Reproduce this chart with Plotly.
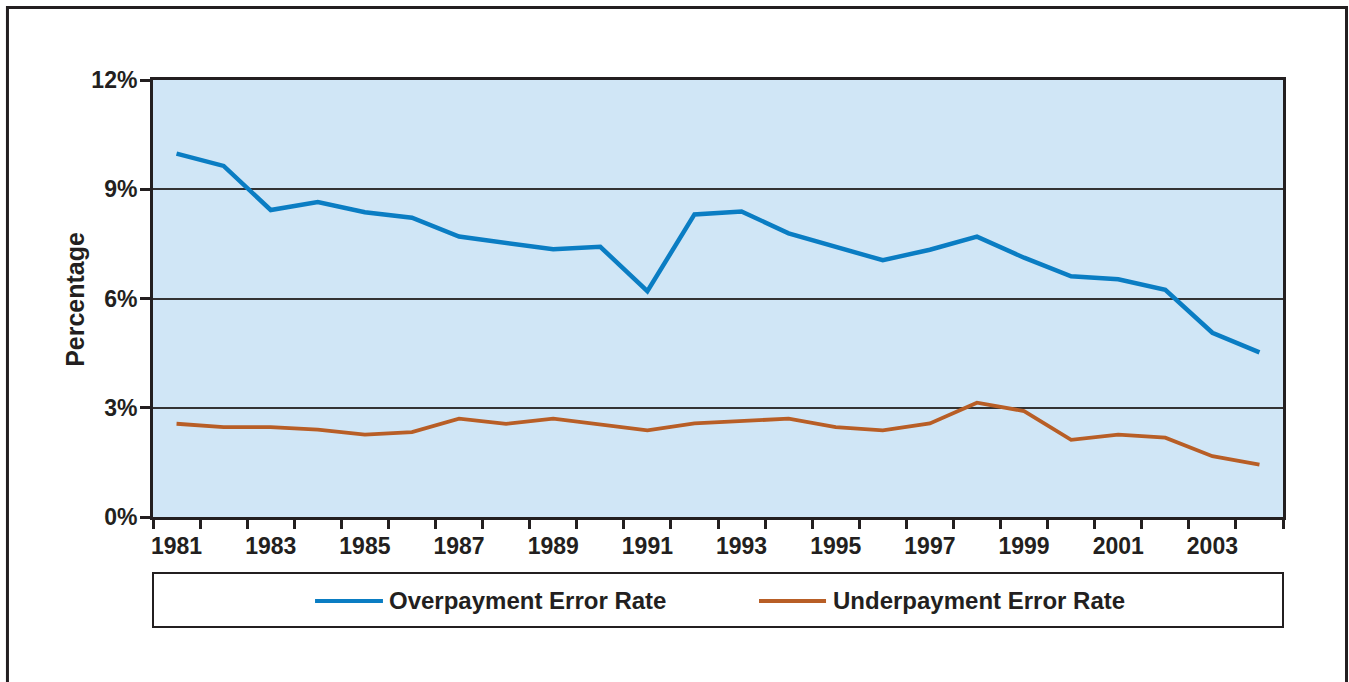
import plotly.graph_objects as go

years = list(range(1981, 2005))
overpayment = [9.98, 9.64, 8.43, 8.65, 8.37, 8.22, 7.70, 7.51, 7.35, 7.42, 6.20, 8.31,
               8.39, 7.79, 7.42, 7.05, 7.34, 7.70, 7.12, 6.61, 6.53, 6.24, 5.06, 4.52]
underpayment = [2.56, 2.47, 2.47, 2.40, 2.26, 2.33, 2.70, 2.56, 2.70, 2.54, 2.38, 2.57,
                2.63, 2.70, 2.47, 2.38, 2.57, 3.14, 2.91, 2.12, 2.26, 2.18, 1.67, 1.44]
label_years = list(range(1981, 2004, 2))
year_labels = [str(y) for y in label_years]
pct_ticks = [0, 3, 6, 9, 12]
pct_labels = ["0%", "3%", "6%", "9%", "12%"]
series_names = ["Overpayment Error Rate", "Underpayment Error Rate"]

BLUE = "#0a7dc3"
ORANGE = "#b85e26"
INK = "#231f20"
FONT = "Liberation Sans, Arial, sans-serif"

fig = go.Figure()
fig.add_trace(go.Scatter(x=years, y=overpayment, mode="lines", name=series_names[0],
                         line=dict(color=BLUE, width=4.5)))
fig.add_trace(go.Scatter(x=years, y=underpayment, mode="lines", name=series_names[1],
                         line=dict(color=ORANGE, width=3.8)))

fig.update_layout(
    width=1349, height=682,
    margin=dict(l=153, r=66, t=80, b=165),
    paper_bgcolor="white",
    plot_bgcolor="#d0e6f6",
    showlegend=False,
    font=dict(family=FONT, color=INK),
)

fig.update_xaxes(
    range=[1980.5, 2004.5],
    tickmode="array", tickvals=label_years, ticktext=year_labels,
    ticks="", showgrid=False, zeroline=False, ticklabelstandoff=6,
    tickfont=dict(size=23, family=FONT, color=INK, weight="bold"),
    showline=True, linewidth=3, linecolor=INK, mirror=True,
    minor=dict(tickmode="array", tickvals=[y - 0.5 for y in years] + [2004.5],
               ticks="outside", ticklen=9, tickwidth=3, tickcolor=INK, showgrid=False),
)
fig.update_yaxes(
    range=[0, 12],
    tickmode="array", tickvals=pct_ticks, ticktext=pct_labels,
    ticks="outside", ticklen=10, tickwidth=3, tickcolor=INK,
    showgrid=True, gridcolor="#333333", gridwidth=1.5, zeroline=False,
    ticklabelstandoff=-2,
    tickfont=dict(size=23, family=FONT, color=INK, weight="bold"),
    showline=True, linewidth=3, linecolor=INK, mirror=True,
)

# y axis title
fig.add_annotation(xref="paper", yref="paper", x=-0.069, y=0.497,
                   text="<b>Percentage</b>", textangle=-90, showarrow=False,
                   xanchor="center", yanchor="middle",
                   font=dict(size=25, family=FONT, color=INK))

# outer frame
fig.add_shape(type="rect", xref="paper", yref="paper",
              x0=-0.1288, x1=1.0562, y0=-0.40, y1=1.166,
              line=dict(color=INK, width=3), fillcolor="rgba(0,0,0,0)")
# legend box
fig.add_shape(type="rect", xref="paper", yref="paper",
              x0=0, x1=1, y0=-0.2517, y1=-0.128,
              line=dict(color=INK, width=2), fillcolor="white")

legend_y = -0.192
for name, color, x0, x1 in [(series_names[0], BLUE, 0.1434, 0.2035),
                            (series_names[1], ORANGE, 0.5363, 0.5956)]:
    fig.add_shape(type="line", xref="paper", yref="paper",
                  x0=x0, x1=x1, y0=legend_y, y1=legend_y,
                  line=dict(color=color, width=4))
    fig.add_annotation(xref="paper", yref="paper", x=x1 + 0.004, y=legend_y,
                       text="<b>" + name + "</b>", showarrow=False,
                       xanchor="left", yanchor="middle",
                       font=dict(size=24, family=FONT, color=INK))

fig.write_html("out.html", config={"displayModeBar": False},
               post_script="document.body.style.margin='0';")
